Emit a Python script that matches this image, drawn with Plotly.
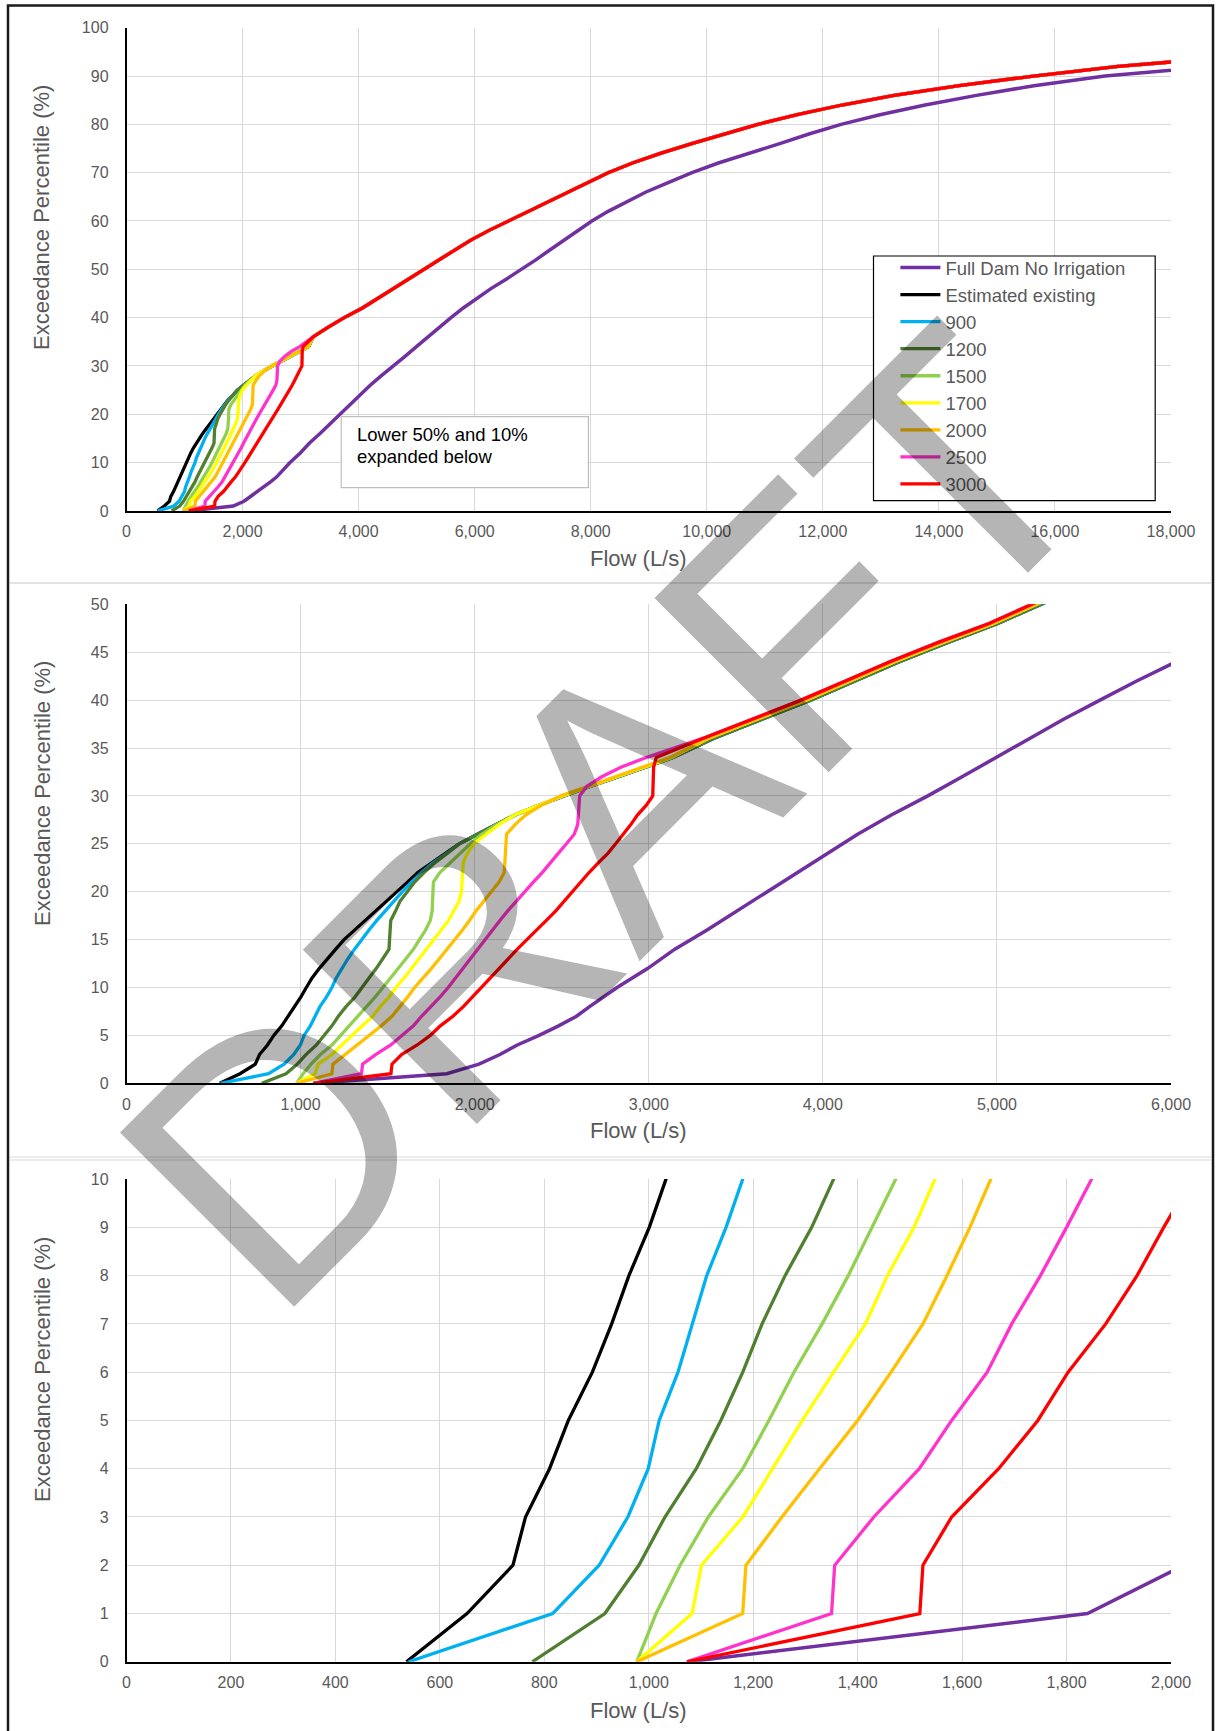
import plotly.graph_objects as go

W, H = 1221, 1731

# ---------------- data ----------------
PCT_LOW = [0, 1, 2, 3, 4, 5, 6, 7, 8, 9, 10, 11, 12, 13, 14, 15, 16, 17, 18, 19, 20,
           21, 22, 23, 24, 25, 26, 27, 28, 29, 30, 31, 32, 33, 34]

FLOW_EXISTING = [536, 652, 740, 764, 810, 846, 892, 929, 962, 1001, 1033, 1066, 1108, 1152, 1202,
                 1250, 1311, 1374, 1437, 1498, 1560, 1614, 1673, 1751, 1837, 1910, 2015, 2120, 2230,
                 2365, 2510, 2665, 2825, 2985, 3140]
FLOW_900 = [540, 816, 905, 960, 999, 1020, 1056, 1083, 1111, 1148, 1180, 1205, 1238, 1272, 1310,
            1350, 1393, 1438, 1485, 1533, 1585, 1637, 1694, 1758, 1840, 1912, 2017, 2122, 2232,
            2367, 2512, 2667, 2826, 2985, 3138]
FLOW_1200 = [777, 916, 981, 1031, 1091, 1138, 1180, 1217, 1261, 1312, 1354, 1395, 1435, 1472, 1508,
             1511, 1514, 1518, 1546, 1571, 1613, 1655, 1709, 1770, 1842, 1913, 2017, 2121, 2231,
             2366, 2510, 2665, 2824, 2983, 3136]
FLOW_1500 = [977, 1014, 1060, 1114, 1180, 1230, 1278, 1332, 1382, 1428, 1473, 1515, 1560, 1605, 1648,
             1685, 1718, 1745, 1756, 1758, 1760, 1763, 1800, 1858, 1920, 1975, 2040, 2125, 2233,
             2366, 2509, 2663, 2822, 2981, 3134]
FLOW_1700 = [977, 1083, 1101, 1180, 1237, 1294, 1354, 1415, 1457, 1508, 1548, 1595, 1637, 1680, 1721,
             1765, 1808, 1850, 1880, 1910, 1924, 1927, 1930, 1934, 1958, 1995, 2066, 2140, 2228,
             2362, 2506, 2660, 2819, 2978, 3131]
FLOW_2000 = [977, 1180, 1186, 1255, 1327, 1400, 1464, 1525, 1571, 1615, 1655, 1705, 1752, 1797, 1842,
             1886, 1930, 1970, 2008, 2052, 2099, 2140, 2170, 2174, 2177, 2180, 2183, 2232, 2292,
             2380, 2495, 2652, 2810, 2970, 3122]
FLOW_2500 = [1073, 1350, 1356, 1431, 1518, 1580, 1648, 1695, 1750, 1800, 1848, 1890, 1935, 1975, 2016,
             2058, 2100, 2145, 2190, 2238, 2285, 2337, 2388, 2432, 2480, 2527, 2572, 2592, 2597,
             2600, 2603, 2645, 2730, 2840, 2985]
FLOW_3000 = [1073, 1519, 1525, 1580, 1670, 1745, 1803, 1875, 1935, 1986, 2040, 2093, 2145, 2195, 2245,
             2300, 2358, 2412, 2466, 2513, 2560, 2608, 2657, 2710, 2765, 2810, 2855, 2897, 2935,
             2985, 3023, 3025, 3026, 3028, 3043]

# merged upper part of the irrigation curves as drawn in the 0-50 % chart:
# upper-left edge of the band (3000 / 2500), its middle and its lower-right edge
PCT_UP_MID = [36, 38, 40, 42, 44, 46, 48, 50, 52]
FLOW_UP_MID_EDGE_HI = [3310, 3595, 3875, 4130, 4385, 4660, 4955, 5200, 5440]
FLOW_UP_MID_CENTRE = [3340, 3625, 3902, 4157, 4412, 4687, 4980, 5228, 5468]
FLOW_UP_MID_EDGE_LO = [3372, 3655, 3930, 4185, 4440, 4715, 5005, 5255, 5495]
MID_BAND_OF_SERIES = ["lo", "lo", "lo", "centre", "centre", "centre", "hi", "hi"]

# merged upper part of the irrigation curves (as drawn in the full-range chart)
PCT_UP_TOP = [36, 38, 40, 42, 44, 46, 48, 50, 52, 54, 56, 58, 60, 62, 64, 66, 68, 70, 72, 74, 76,
              78, 80, 82, 84, 86, 88, 90, 92, 93, 95]
FLOW_UP_TOP = [3215, 3470, 3753, 4066, 4331, 4603, 4865, 5126, 5390, 5656, 5926, 6240, 6583, 6930,
               7280, 7620, 7950, 8300, 8720, 9200, 9740, 10300, 10880, 11560, 12330, 13230, 14350,
               15630, 17090, 18100, 20600]

PCT_FULLDAM = [0, 1, 2, 3, 4, 5, 6, 7, 8, 9, 10, 12, 14, 16, 18, 20, 22, 24, 26, 28, 30, 32, 34,
               36, 38, 40, 42, 44, 46, 48, 50, 52, 54, 56, 58, 60, 62, 64, 66, 68, 70, 72, 74, 76,
               78, 80, 82, 84, 86, 88, 90, 92, 93, 95]
FLOW_FULLDAM = [1075, 1840, 2025, 2145, 2245, 2370, 2482, 2585, 2660, 2738, 2818, 2995, 3150, 3335,
                3507, 3677, 3850, 4022, 4200, 4393, 4603, 4800, 4997, 5192, 5383, 5592, 5803, 6030,
                6280, 6550, 6815, 7060, 7295, 7530, 7770, 8020, 8300, 8624, 8953, 9345, 9745, 10199,
                10747, 11257, 11760, 12315, 12983, 13763, 14648, 15638, 16863, 18617, 19700, 22500]

SERIES_NAMES = ["Estimated existing", "900", "1200", "1500", "1700", "2000", "2500", "3000"]
SERIES_FLOWS = [FLOW_EXISTING, FLOW_900, FLOW_1200, FLOW_1500, FLOW_1700, FLOW_2000, FLOW_2500, FLOW_3000]
SERIES_COLORS = ["#000000", "#00B0F0", "#4F7F2F", "#92D050", "#FFFF00", "#FFC000", "#FF33CC", "#FF0000"]
FULLDAM_NAME = "Full Dam No Irrigation"
FULLDAM_COLOR = "#7030A0"

X_RANGES = [[0, 18000], [0, 6000], [0, 2000]]
X_DTICKS = [2000, 1000, 200]
Y_RANGES = [[0, 100], [0, 50], [0, 10]]
Y_DTICKS = [10, 5, 1]

MID_BANDS = {"hi": FLOW_UP_MID_EDGE_HI, "centre": FLOW_UP_MID_CENTRE, "lo": FLOW_UP_MID_EDGE_LO}

# ---------------- layout geometry (pixels) ----------------
def px(v):
    return v / W

def py(v):
    return 1 - v / H

X_DOM = [px(126.5), px(1171.0)]
Y_DOMS = [[py(510.9), py(27.7)], [py(1083.3), py(604.3)], [py(1661.8), py(1179.1)]]
XTITLE_Y = [558.6, 1130.5, 1710.5]
YTITLE_Y = [218.0, 794.0, 1370.0]

FONT = "Liberation Sans, Arial, sans-serif"
GREY_TXT = "#595959"
GRID = "#D9D9D9"
LW = 3.3

fig = go.Figure()

for p in range(3):
    xa = "x" if p == 0 else "x%d" % (p + 1)
    ya = "y" if p == 0 else "y%d" % (p + 1)
    fig.add_trace(go.Scatter(
        x=FLOW_FULLDAM, y=PCT_FULLDAM, mode="lines", name=FULLDAM_NAME,
        line=dict(color=FULLDAM_COLOR, width=LW + 0.2), xaxis=xa, yaxis=ya,
        legendgroup="g0", showlegend=(p == 0), hoverinfo="skip"))
    for i, (nm, fl, col) in enumerate(zip(SERIES_NAMES, SERIES_FLOWS, SERIES_COLORS)):
        if p == 0:
            up_pct, up_flow = PCT_UP_TOP, FLOW_UP_TOP
        else:
            up_pct, up_flow = PCT_UP_MID, MID_BANDS[MID_BAND_OF_SERIES[i]]
        fig.add_trace(go.Scatter(
            x=fl + up_flow, y=PCT_LOW + up_pct, mode="lines", name=nm,
            line=dict(color=col, width=LW), xaxis=xa, yaxis=ya,
            legendgroup="g%d" % (i + 1), showlegend=(p == 0), hoverinfo="skip"))

layout = dict(
    template="none",
    width=W, height=H, autosize=False, margin=dict(l=0, r=0, t=0, b=0, pad=0, autoexpand=False),
    paper_bgcolor="white", plot_bgcolor="white",
    font=dict(family=FONT, color=GREY_TXT, size=16),
    showlegend=True,
    legend=dict(x=px(895.4), y=py(249.0), xanchor="left", yanchor="top",
                bgcolor="rgba(0,0,0,0)", borderwidth=0,
                font=dict(family=FONT, size=18.5, color=GREY_TXT),
                tracegroupgap=2.2, itemwidth=40, traceorder="normal"),
)
for p in range(3):
    xk = "xaxis" if p == 0 else "xaxis%d" % (p + 1)
    yk = "yaxis" if p == 0 else "yaxis%d" % (p + 1)
    ya = "y" if p == 0 else "y%d" % (p + 1)
    xa = "x" if p == 0 else "x%d" % (p + 1)
    layout[xk] = dict(domain=X_DOM, anchor=ya, range=X_RANGES[p], dtick=X_DTICKS[p], tick0=0,
                      tickmode="linear", automargin=False,
                      tickformat=",d", showgrid=True, gridcolor=GRID, gridwidth=1.3,
                      zeroline=False, showline=True, linecolor="#000000", linewidth=2.2,
                      ticks="", ticklabelstandoff=5,
                      tickfont=dict(family=FONT, size=16, color=GREY_TXT), fixedrange=True)
    layout[yk] = dict(domain=Y_DOMS[p], anchor=xa, range=Y_RANGES[p], dtick=Y_DTICKS[p], tick0=0,
                      tickmode="linear", automargin=False,
                      showgrid=True, gridcolor=GRID, gridwidth=1.3,
                      zeroline=False, showline=True, linecolor="#000000", linewidth=1.5,
                      ticks="", ticklabelstandoff=13,
                      tickfont=dict(family=FONT, size=16, color=GREY_TXT), fixedrange=True)
fig.update_layout(**layout)

annotations = []
for p in range(3):
    annotations.append(dict(xref="paper", yref="paper", x=px(638), y=py(XTITLE_Y[p]),
                            text="Flow (L/s)", showarrow=False, xanchor="center", yanchor="middle",
                            font=dict(family=FONT, size=22, color=GREY_TXT)))
    annotations.append(dict(xref="paper", yref="paper", x=px(42), y=py(YTITLE_Y[p]),
                            text="Exceedance Percentile (%)", showarrow=False, textangle=-90,
                            xanchor="center", yanchor="middle",
                            font=dict(family=FONT, size=22, color=GREY_TXT)))
# note box text
annotations.append(dict(xref="paper", yref="paper", x=px(355), y=py(434.7), text="Lower 50% and 10%",
                        showarrow=False, xanchor="left", yanchor="middle",
                        font=dict(family=FONT, size=18.5, color="#000000")))
annotations.append(dict(xref="paper", yref="paper", x=px(355), y=py(456.9), text="expanded below",
                        showarrow=False, xanchor="left", yanchor="middle",
                        font=dict(family=FONT, size=18.5, color="#000000")))
# watermark
annotations.append(dict(xref="paper", yref="paper", x=px(607.5), y=py(818), text="DRAFT",
                        showarrow=False, xanchor="center", yanchor="middle", textangle=-45,
                        font=dict(family=FONT, size=358, color="rgba(0,0,0,0.29)")))
fig.update_layout(annotations=annotations)

shapes = [
    # outer frame
    dict(type="rect", xref="paper", yref="paper", x0=px(8), x1=px(1213), y0=py(1760), y1=py(5.5),
         line=dict(color="#1A1A1A", width=2.5), fillcolor="rgba(0,0,0,0)", layer="above"),
    # separators between the three charts
    dict(type="line", xref="paper", yref="paper", x0=px(10), x1=px(1211), y0=py(583), y1=py(583),
         line=dict(color=GRID, width=1.5), layer="below"),
    dict(type="line", xref="paper", yref="paper", x0=px(10), x1=px(1211), y0=py(1157), y1=py(1157),
         line=dict(color=GRID, width=1.2), layer="below"),
    dict(type="line", xref="paper", yref="paper", x0=px(10), x1=px(1211), y0=py(1160), y1=py(1160),
         line=dict(color=GRID, width=1.2), layer="below"),
    # note box
    dict(type="rect", xref="paper", yref="paper", x0=px(341.2), x1=px(588.4), y0=py(487.6), y1=py(416.6),
         line=dict(color="#BFBFBF", width=1.2), fillcolor="white", layer="above"),
    # legend frame
    dict(type="rect", xref="paper", yref="paper", x0=px(873.5), x1=px(1155.2), y0=py(500.6), y1=py(256.0),
         line=dict(color="#000000", width=1.2), fillcolor="white", layer="above"),
]
fig.update_layout(shapes=shapes)

POST = ("document.body.style.margin='0px';document.body.style.padding='0px';"
        "document.documentElement.style.overflow='hidden';document.body.style.overflow='hidden';"
        "var gd=document.getElementById('{plot_id}');"
        "Plotly.relayout(gd,{width:%d,height:%d});" % (W, H))

fig.write_html("out.html", config={"responsive": False, "displayModeBar": False},
               default_width="%dpx" % W, default_height="%dpx" % H, post_script=POST)
